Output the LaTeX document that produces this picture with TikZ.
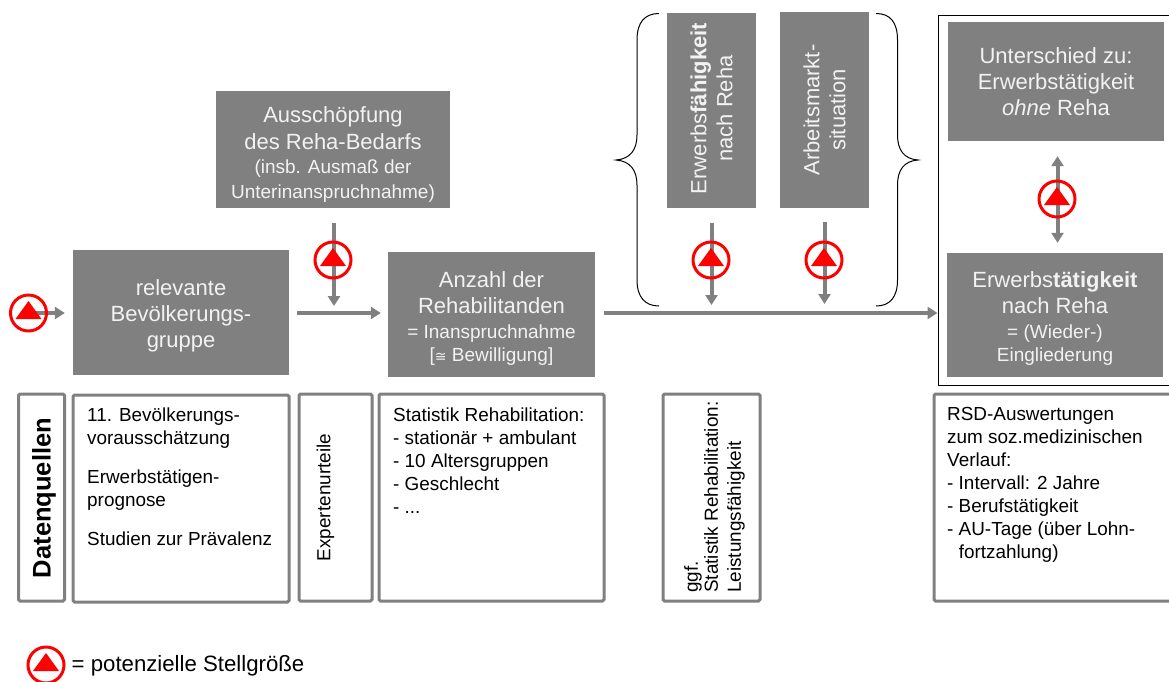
\documentclass[tikz,border=0pt]{standalone}
\usepackage{fontspec}
\setmainfont{Liberation Sans}
\newfontfamily\symfont{DejaVu Sans}
\usetikzlibrary{arrows.meta,calc}
\definecolor{boxgrey}{HTML}{808080}
\definecolor{boxtext}{HTML}{F2F2F2}
\newcommand{\smalltxt}{\fontsize{19}{22}\selectfont}
\newcommand{\topgap}[1]{\rule{0pt}{#1}}
\tikzset{
  greybox/.style={fill=boxgrey,text=boxtext,inner sep=0pt,align=center,font=\fontsize{22}{26}\selectfont},
  lowbox/.style={draw=boxgrey,line width=3pt,rounded corners=1.5pt,fill=white,inner sep=0pt},
  lowtext/.style={anchor=north west,inner sep=0pt,align=left,text=black,font=\fontsize{18.9}{23}\selectfont},
  arr/.style={draw=boxgrey,line width=4pt,-{Triangle[width=12pt,length=10pt]}},
  dblarr/.style={draw=boxgrey,line width=4pt,{Triangle[width=12pt,length=10pt]}-{Triangle[width=12pt,length=10pt]}},
  ctlring/.style={circle,draw=red,line width=3pt,minimum size=36pt,inner sep=0pt},
  ctltri/.style={fill=red,draw=none},
  bracket/.style={draw=black,line width=1pt},
}
\newcommand{\ctl}[3]{%
  \node[ctlring] (#1) at (#2,#3) {};
  \fill[ctltri] ($(#1)+(-13,6)$) -- ($(#1)+(13,6)$) -- ($(#1)+(0,-12)$) -- cycle;
}
\begin{document}
\begin{tikzpicture}[x=1pt,y=-1pt]
\clip (0,0) rectangle (1169,681);
\fill[white] (0,0) rectangle (1169,681);
\coordinate (mainy) at (0,313);

% upper row
\node[greybox,minimum width=234pt,minimum height=117pt] (ausch) at (333,149.5)
  {\topgap{25pt}Ausschöpfung\\[1pt]des Reha-Bedarfs\\[-2pt]{\smalltxt (insb. Ausmaß der}\\[-1pt]{\smalltxt Unterinanspruchnahme)}};
\node[greybox,minimum width=216pt,minimum height=125pt] (rel) at (181,312.5)
  {\topgap{22pt}relevante\\Bevölkerungs-\\gruppe};
\node[greybox,minimum width=207pt,minimum height=125pt] (anz) at (491.5,314.5)
  {\topgap{23pt}Anzahl der\\Rehabilitanden\\[-1pt]{\smalltxt = Inanspruchnahme}\\[-3pt]{\smalltxt [{\symfont\fontsize{14}{22}\selectfont ≅} Bewilligung]}};
\node[greybox,rotate=90,minimum width=195pt,minimum height=89pt] (faeh) at (711.5,110.5)
  {\hspace*{4pt}Erwerbs\textbf{fähigkeit}\\\hspace*{4pt}nach Reha};
\node[greybox,rotate=90,minimum width=196pt,minimum height=89pt] (markt) at (824.5,110)
  {Arbeitsmarkt-\\situation};

% outer frame and right column
\node[draw=black,line width=1pt,minimum width=240pt,minimum height=370pt,inner sep=0pt] (outer) at (1058,200) {};
\node[greybox,minimum width=216pt,minimum height=119pt] (unter) at (1056,81.5)
  {Unterschied zu:\\Erwerbstätigkeit\\\textit{ohne} Reha};
\node[greybox,minimum width=216pt,minimum height=124pt] (erw) at (1055,315)
  {\topgap{22pt}Erwerbs\textbf{tätigkeit}\\nach Reha\\[-1pt]{\smalltxt = (Wieder-)}\\[-3pt]{\smalltxt Eingliederung}};

% braces
\draw[bracket] (659,13.5) .. controls (645,13.5) and (637,22) .. (637,40)
  -- (637,135) .. controls (637,150) and (630,159) .. (616,160)
  .. controls (630,161) and (637,170) .. (637,185)
  -- (637,280) .. controls (637,297) and (645,306) .. (659,306);
\draw[bracket] (876,13.5) .. controls (890,13.5) and (897.5,22) .. (897.5,40)
  -- (897.5,135) .. controls (897.5,150) and (904,159) .. (918,160)
  .. controls (904,161) and (897.5,170) .. (897.5,185)
  -- (897.5,280) .. controls (897.5,297) and (890,306) .. (876,306);

% connectors
\coordinate (instart) at (30,313);
\coordinate (aend) at (334,306);
\coordinate (fend) at (711.5,305);
\coordinate (mend) at (824.5,304);
\coordinate (dbl) at (1057.5,0);
\draw[arr,shorten >=8pt] (instart) -- (rel.west |- mainy);
\draw[arr,shorten <=8pt,shorten >=7pt] (rel.east |- mainy) -- (anz.west |- mainy);
\draw[arr,shorten <=9pt] (anz.east |- mainy) -- (outer.west |- mainy);
\draw[arr,shorten <=15pt] (ausch.south -| aend) -- (aend);
\draw[arr,shorten <=15pt] (faeh.west -| fend) -- (fend);
\draw[arr,shorten <=14pt] (markt.west -| mend) -- (mend);
\draw[dblarr,shorten <=15pt,shorten >=10pt] (unter.south -| dbl) -- (erw.north -| dbl);

% control markers
\ctl{c1}{28.5}{313}
\ctl{c2}{333}{260}
\ctl{c3}{711}{260}
\ctl{c4}{824}{260}
\ctl{c5}{1057}{199}
\ctl{c6}{46}{665}

% data sources
\node[lowbox,rotate=90,minimum width=207pt,minimum height=46pt] (dq) at (41.5,497.5) {};
\node[anchor=center,rotate=90,inner sep=0pt,font=\fontsize{25.5}{30}\selectfont\bfseries] (dqt) at (44,498) {Datenquellen};
\node[lowbox,minimum width=216pt,minimum height=207pt] (d1) at (181,498.5) {};
\node[lowbox,minimum width=73pt,minimum height=207pt] (d2) at (335.5,497.5) {};
\node[lowbox,minimum width=225pt,minimum height=207pt] (d3) at (491.5,497.5) {};
\node[lowbox,minimum width=97pt,minimum height=207pt] (d4) at (711.5,497.5) {};
\node[lowbox,minimum width=240pt,minimum height=207pt] (d5) at (1054,497.5) {};

\node[lowtext] (t1) at (87,407.5) {11. Bevölkerungs-\\vorausschätzung};
\node[lowtext] (t1b) at (87,470) {Erwerbstätigen-\\prognose};
\node[lowtext] (t1c) at (87,531.5) {Studien zur Prävalenz};
\node[lowtext,anchor=center,rotate=90] (t2) at (325.5,497.5) {Expertenurteile};
\node[lowtext] (t3) at (393,407.5) {Statistik Rehabilitation:\\- stationär + ambulant\\- 10 Altersgruppen\\- Geschlecht\\- ...};
\node[lowtext,anchor=south west,rotate=90,font=\fontsize{18.9}{20}\selectfont] (t4) at (745,593) {ggf.\\Statistik Rehabilitation:\\[3pt]Leistungsfähigkeit};
\node[lowtext] (t5) at (947,407.5) {RSD-Auswertungen\\zum soz.medizinischen\\Verlauf:\\- Intervall: 2 Jahre\\- Berufstätigkeit\\- AU-Tage (über Lohn-\\\phantom{- }fortzahlung)};

% legend
\node[anchor=west,inner sep=0pt,text=black,font=\fontsize{22.2}{24}\selectfont] (leg) at (71.5,666) {= potenzielle Stellgröße};
\end{tikzpicture}
\end{document}
